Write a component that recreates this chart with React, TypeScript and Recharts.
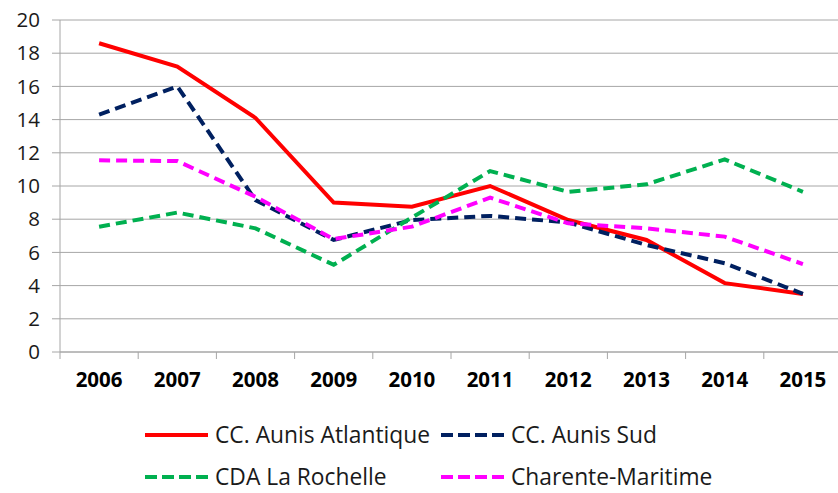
import { CartesianGrid, Legend, Line, LineChart, XAxis, YAxis } from "recharts"

// années
const years = ["2006", "2007", "2008", "2009", "2010", "2011", "2012", "2013", "2014", "2015"]

// valeurs
const aunisAtlantique = [18.6, 17.2, 14.1, 9.0, 8.75, 10.0, 7.95, 6.75, 4.15, 3.5]
const aunisSud = [14.3, 16.0, 9.15, 6.75, 7.95, 8.2, 7.8, 6.45, 5.35, 3.5]
const laRochelle = [7.55, 8.4, 7.45, 5.25, 8.1, 10.9, 9.65, 10.1, 11.6, 9.65]
const charente = [11.55, 11.5, 9.35, 6.8, 7.55, 9.3, 7.75, 7.45, 6.95, 5.3]

const yTicks = [0, 2, 4, 6, 8, 10, 12, 14, 16, 18, 20]

const series = [
    { key: "aa", name: "CC. Aunis Atlantique", color: "#ff0000", dash: undefined },
    { key: "as", name: "CC. Aunis Sud", color: "#002060", dash: "11 6" },
    { key: "lr", name: "CDA La Rochelle", color: "#00b050", dash: "11 6" },
    { key: "cm", name: "Charente-Maritime", color: "#ff00ff", dash: "11 6" },
]

const data = years.map((y, i) => ({
    year: y,
    aa: aunisAtlantique[i],
    as: aunisSud[i],
    lr: laRochelle[i],
    cm: charente[i],
}))

const font = "'Open Sans', sans-serif"
const BAND = 78.2

function YearTick(props: any) {
    const { x, y, payload, index } = props
    return (
        <g>
            <line x1={x - BAND / 2} y1={y} x2={x - BAND / 2} y2={y + 7} stroke="#a6a6a6" />
            {index === years.length - 1 && (
                <line x1={x + BAND / 2} y1={y} x2={x + BAND / 2} y2={y + 7} stroke="#a6a6a6" />
            )}
            <text
                x={x}
                y={y + 30}
                textAnchor="middle"
                dominantBaseline="middle"
                fontFamily={font}
                fontWeight="bold"
                fontSize={20.5}
                fill="#000"
            >
                {payload.value}
            </text>
        </g>
    )
}

function LegendItem({ s, left, top }: any) {
    return (
        <div style={{ position: "absolute", left, top, display: "flex", alignItems: "center", height: 20, whiteSpace: "nowrap" }}>
            <svg width={70} height={10}>
                <line x1={0} y1={5} x2={63} y2={5} stroke={s.color} strokeWidth={4} strokeDasharray={s.dash ? "12 5" : undefined} />
            </svg>
            <span style={{ fontFamily: font, fontSize: 22.8, color: "#1a1a1a", lineHeight: "20px" }}>{s.name}</span>
        </div>
    )
}

function ChartLegend() {
    return (
        <div style={{ position: "relative", width: 838, height: 91 }}>
            <LegendItem s={series[0]} left={145} top={23} />
            <LegendItem s={series[1]} left={441} top={23} />
            <LegendItem s={series[2]} left={145} top={65} />
            <LegendItem s={series[3]} left={441} top={65} />
        </div>
    )
}

export default function App() {
    return (
        <div style={{ position: "absolute", left: 0, top: 0, width: 838, height: 493, background: "#fff", overflow: "hidden" }}>
            <LineChart width={838} height={493} data={data} margin={{ top: 20, right: -4, left: 0, bottom: 0 }}>
                <CartesianGrid vertical={false} stroke="#a6a6a6" />
                <XAxis
                    dataKey="year"
                    height={50}
                    stroke="#a6a6a6"
                    tickLine={false}
                    tickSize={0}
                    tickMargin={0}
                    interval={0}
                    padding={{ left: BAND / 2, right: BAND / 2 }}
                    tick={<YearTick />}
                />
                <YAxis
                    width={60}
                    domain={[0, 20]}
                    ticks={yTicks}
                    stroke="#a6a6a6"
                    tickSize={8}
                    tickMargin={12}
                    tick={{ fill: "#1a1a1a", fontSize: 20.5, fontFamily: font }}
                />
                <Legend verticalAlign="bottom" height={91} wrapperStyle={{ left: 0, width: 838 }} content={() => <ChartLegend />} />
                {series.map((s) => (
                    <Line
                        key={s.key}
                        dataKey={s.key}
                        name={s.name}
                        stroke={s.color}
                        strokeWidth={4}
                        strokeDasharray={s.dash}
                        dot={false}
                        activeDot={false}
                        isAnimationActive={false}
                    />
                ))}
            </LineChart>
        </div>
    )
}
